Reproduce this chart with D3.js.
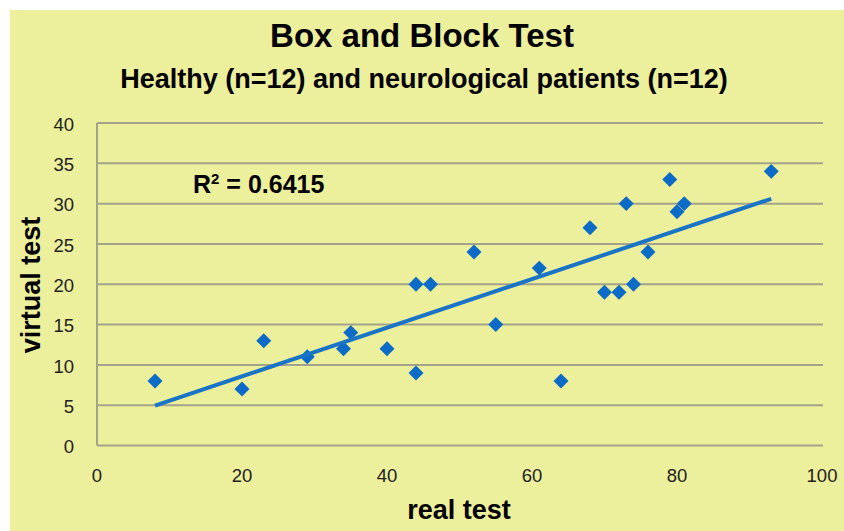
<!DOCTYPE html>
<html lang="en">
<head>
<meta charset="UTF-8">
<title>Box and Block Test</title>
<style>
body {
	margin: 0;
	background: #fff;
}
svg text {
	font-family: "Liberation Sans", Arial, sans-serif;
}
</style>
</head>
<body>
<svg id="chart" width="844" height="531"></svg>
<script src="https://cdn.jsdelivr.net/npm/d3@7"></script>
<script>

// real test scores (x) and virtual test scores (y), 24 subjects
const realTest = [8, 20, 23, 29, 34, 35, 40, 44, 44, 46, 52, 55, 61, 64, 68, 70, 72, 73, 74, 76, 79, 80, 81, 93];
const virtualTest = [8, 7, 13, 11, 12, 14, 12, 9, 20, 20, 24, 15, 22, 8, 27, 19, 19, 30, 20, 24, 33, 29, 30, 34];

// linear trendline ends
const trendX = [8, 93];
const trendY = [4.95, 30.6];

const xTicks = [0, 20, 40, 60, 80, 100];
const yTicks = [0, 5, 10, 15, 20, 25, 30, 35, 40];

const svg = d3.select("#chart");

// yellow panel
svg.append("rect")
	.attr("x", 10)
	.attr("y", 10)
	.attr("width", 834)
	.attr("height", 521)
	.attr("fill", "#ecef9b");

const x = d3.scaleLinear().domain([0, 100]).range([97, 822]);
const y = d3.scaleLinear().domain([0, 40]).range([445.5, 123]);

// horizontal gridlines
svg.append("g")
	.selectAll("line")
	.data(yTicks)
	.join("line")
	.attr("x1", x(0))
	.attr("x2", x(100) + 1)
	.attr("y1", d => y(d))
	.attr("y2", d => y(d))
	.attr("stroke", "#a3a38c")
	.attr("stroke-width", 2);

// left axis line
svg.append("line")
	.attr("x1", x(0))
	.attr("x2", x(0))
	.attr("y1", y(40))
	.attr("y2", y(0))
	.attr("stroke", "#a3a38c")
	.attr("stroke-width", 2);

// y tick labels
svg.append("g")
	.selectAll("text")
	.data(yTicks)
	.join("text")
	.attr("x", 74)
	.attr("y", d => y(d) + 1)
	.attr("dy", "0.36em")
	.attr("text-anchor", "end")
	.attr("font-size", 18.5)
	.attr("fill", "#222")
	.text(d => d);

// x tick labels
svg.append("g")
	.selectAll("text")
	.data(xTicks)
	.join("text")
	.attr("x", d => x(d))
	.attr("y", 482)
	.attr("text-anchor", "middle")
	.attr("font-size", 18.5)
	.attr("fill", "#222")
	.text(d => d);

// points
const points = realTest.map((d, i) => ({x: d, y: virtualTest[i]}));
const diamond = d3.symbol().type(d3.symbolSquare).size(112);

svg.append("g")
	.selectAll("path")
	.data(points)
	.join("path")
	.attr("d", diamond)
	.attr("transform", d => `translate(${x(d.x)},${y(d.y)}) rotate(45)`)
	.attr("fill", "#0b6bc6");

// trendline
const trend = trendX.map((d, i) => [x(d), y(trendY[i])]);
svg.append("path")
	.attr("d", d3.line()(trend))
	.attr("fill", "none")
	.attr("stroke", "#1a74c6")
	.attr("stroke-width", 4);

// titles
svg.append("text")
	.attr("x", 422)
	.attr("y", 47)
	.attr("text-anchor", "middle")
	.attr("font-size", 33)
	.attr("font-weight", "bold")
	.text("Box and Block Test");

svg.append("text")
	.attr("x", 424)
	.attr("y", 88)
	.attr("text-anchor", "middle")
	.attr("font-size", 27)
	.attr("font-weight", "bold")
	.text("Healthy (n=12) and neurological patients (n=12)");

// R squared label
const r2 = svg.append("text")
	.attr("x", 193)
	.attr("y", 193)
	.attr("font-size", 25)
	.attr("font-weight", "bold");
r2.append("tspan").text("R");
r2.append("tspan").attr("font-size", 15).attr("dy", -9).text("2");
r2.append("tspan").attr("dy", 9).text(" = 0.6415");

// axis titles
svg.append("text")
	.attr("x", 459)
	.attr("y", 519)
	.attr("text-anchor", "middle")
	.attr("font-size", 27)
	.attr("font-weight", "bold")
	.text("real test");

svg.append("text")
	.attr("transform", "translate(40,285) rotate(-90)")
	.attr("text-anchor", "middle")
	.attr("font-size", 27)
	.attr("font-weight", "bold")
	.text("virtual test");

</script>
</body>
</html>
